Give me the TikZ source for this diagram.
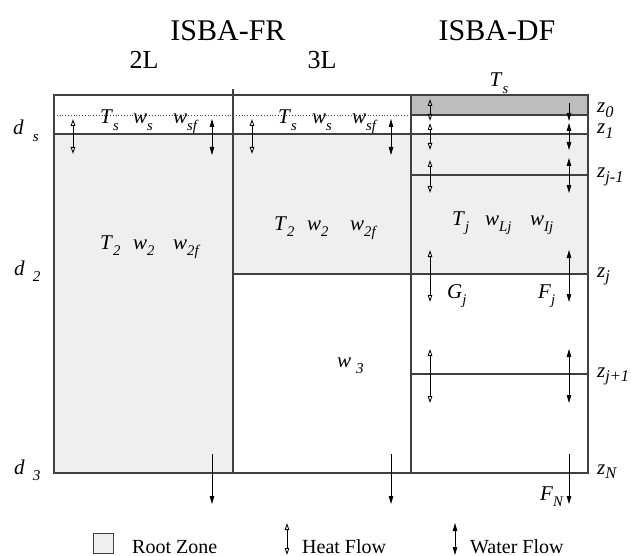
\documentclass[tikz,border=0pt]{standalone}
\usepackage{fontspec}
\setmainfont{Liberation Serif}
\usepackage{graphicx}
\usetikzlibrary{arrows.meta}
\definecolor{rootgray}{HTML}{EFEFEF}
\definecolor{surfgray}{HTML}{BDBDBD}
\definecolor{linegray}{HTML}{404040}
\newcommand\Sb[2]{\textit{#1}\raisebox{-0.32em}{\scalebox{0.7}{\textit{#2}}}}
\newcommand\Zb[2]{\textit{#1}\raisebox{-0.2em}{\scalebox{0.78}{\textit{#2}}}}
\newcommand\Gb[3]{\textit{#1}\hspace{#3}\raisebox{-0.3em}{\scalebox{0.72}{\textit{#2}}}}
\newcommand\flux[5]{\coordinate (#1a) at (#2,#3); \coordinate (#1b) at (#2,#4); \draw[#5] (#1a) -- (#1b);}
\begin{document}
\begin{tikzpicture}[x=1pt,y=-1pt,
  gridline/.style={draw=linegray,line width=1.2pt},
  rootfill/.style={fill=rootgray},
  surffill/.style={fill=surfgray},
  heat/.style={line width=0.8pt,{Triangle[open,length=7pt,width=4.5pt]}-{Triangle[open,length=7pt,width=4.5pt]}},
  water/.style={line width=0.8pt,{Triangle[length=8pt,width=4.5pt]}-{Triangle[length=8pt,width=4.5pt]}},
  waterdown/.style={line width=0.8pt,-{Triangle[length=8pt,width=4.5pt]}},
  title/.style={font=\fontsize{30}{34}\selectfont,anchor=base,inner sep=0pt},
  subtitle/.style={font=\fontsize{26}{30}\selectfont,anchor=base,inner sep=0pt},
  var/.style={font=\fontsize{21}{24}\selectfont,anchor=base west,inner sep=0pt},
  zlab/.style={font=\fontsize{21}{24}\selectfont,anchor=base west,inner sep=0pt},
  legend/.style={font=\fontsize{20}{24}\selectfont,anchor=base west,inner sep=0pt}]
\useasboundingbox (0,0) rectangle (631,556);
% shading
\fill[rootfill] (54,134) rectangle (233,473);
\fill[rootfill] (233,134) rectangle (411,274);
\fill[rootfill] (411,134) rectangle (588,274);
\fill[surffill] (411,95) rectangle (588,115);
% grid
\draw[gridline] (54,95) rectangle (588,473);
\draw[gridline] (233,89) -- (233,473);
\draw[gridline] (411,95) -- (411,473);
\draw[gridline] (54,134) -- (588,134);
\draw[linegray,line width=0.8pt,dotted] (54,115) -- (411,115);
\draw[gridline] (411,115) -- (588,115);
\draw[gridline] (411,175) -- (588,175);
\draw[gridline] (233,274) -- (588,274);
\draw[gridline] (411,374) -- (588,374);
% titles
\node[title] (fr) at (228,41) {ISBA-FR};
\node[title] (df) at (497,41) {ISBA-DF};
\node[subtitle] (twoL) at (144,69) {2L};
\node[subtitle] (threeL) at (322,69) {3L};
\node[var,anchor=base] (tstop) at (499,87) {\Sb{T}{s}};
% column 1
\node[var] (ts1) at (100,124) {\Sb{T}{s}};
\node[var] (ws1) at (133,124) {\Sb{w}{s}};
\node[var] (wsf1) at (173,124) {\Sb{w}{sf}};
\node[var] (t21) at (100,249) {\Sb{T}{2}};
\node[var] (w21) at (133,249) {\Sb{w}{2}};
\node[var] (w2f1) at (173,249) {\Sb{w}{2f}};
% column 2
\node[var] (ts2) at (278,124) {\Sb{T}{s}};
\node[var] (ws2) at (312,124) {\Sb{w}{s}};
\node[var] (wsf2) at (352,124) {\Sb{w}{sf}};
\node[var] (t22) at (274,230) {\Sb{T}{2}};
\node[var] (w22) at (307,230) {\Sb{w}{2}};
\node[var] (w2f2) at (350,230) {\Sb{w}{2f}};
\node[var] (w3) at (337,367) {\Gb{w}{3}{5pt}};
% column 3
\node[var] (tj) at (452,225) {\Sb{T}{j}};
\node[var] (wlj) at (485,225) {\Sb{w}{Lj}};
\node[var] (wij) at (530,225) {\Sb{w}{Ij}};
\node[var] (gj) at (447,298) {\Sb{G}{j}};
\node[var] (fj) at (538,298) {\Sb{F}{j}};
\node[var] (fn) at (540,500) {\Sb{F}{N}};
% right labels
\node[zlab] (z0) at (597,113) {\Zb{z}{0}};
\node[zlab] (z1) at (597,134) {\Zb{z}{1}};
\node[zlab] (zjm) at (597,178) {\Zb{z}{j-1}};
\node[zlab] (zj) at (597,277) {\Zb{z}{j}};
\node[zlab] (zjp) at (597,377) {\Zb{z}{j+1}};
\node[zlab] (zn) at (597,474) {\Zb{z}{N}};
% left labels
\node[zlab] (ds) at (13,135) {\Gb{d}{s}{9pt}};
\node[zlab] (d2) at (14,275) {\Gb{d}{2}{8pt}};
\node[zlab] (d3) at (14,474) {\Gb{d}{3}{8pt}};
% flux arrows
\flux{ha}{73}{119}{154}{heat}
\flux{wa}{212}{119}{155}{water}
\flux{hb}{252}{119}{154}{heat}
\flux{wb}{391}{119}{155}{water}
\flux{hc}{430}{99}{121}{heat}
\flux{hd}{430}{123}{150}{heat}
\flux{he}{430}{160}{193}{heat}
\flux{hf}{430}{250}{302}{heat}
\flux{hg}{430}{349}{403}{heat}
\flux{wc}{569}{103}{121}{waterdown}
\flux{wd}{569}{123}{150}{water}
\flux{we}{569}{158}{193}{water}
\flux{wf}{569}{250}{302}{water}
\flux{wg}{569}{349}{403}{water}
\flux{bo1}{212}{454}{504}{waterdown}
\flux{bo2}{391}{454}{504}{waterdown}
\flux{bo3}{569}{454}{504}{waterdown}
% legend
\node[draw=linegray,line width=0.8pt,fill=rootgray,minimum width=20pt,minimum height=20pt,inner sep=0pt] (lbox) at (103,543) {};
\node[legend] (lroot) at (132,553) {Root Zone};
\flux{lh}{287}{523}{555}{heat}
\node[legend] (lheat) at (302,553) {Heat Flow};
\flux{lw}{455}{523}{555}{water}
\node[legend] (lwater) at (470,553) {Water Flow};
\end{tikzpicture}
\end{document}
